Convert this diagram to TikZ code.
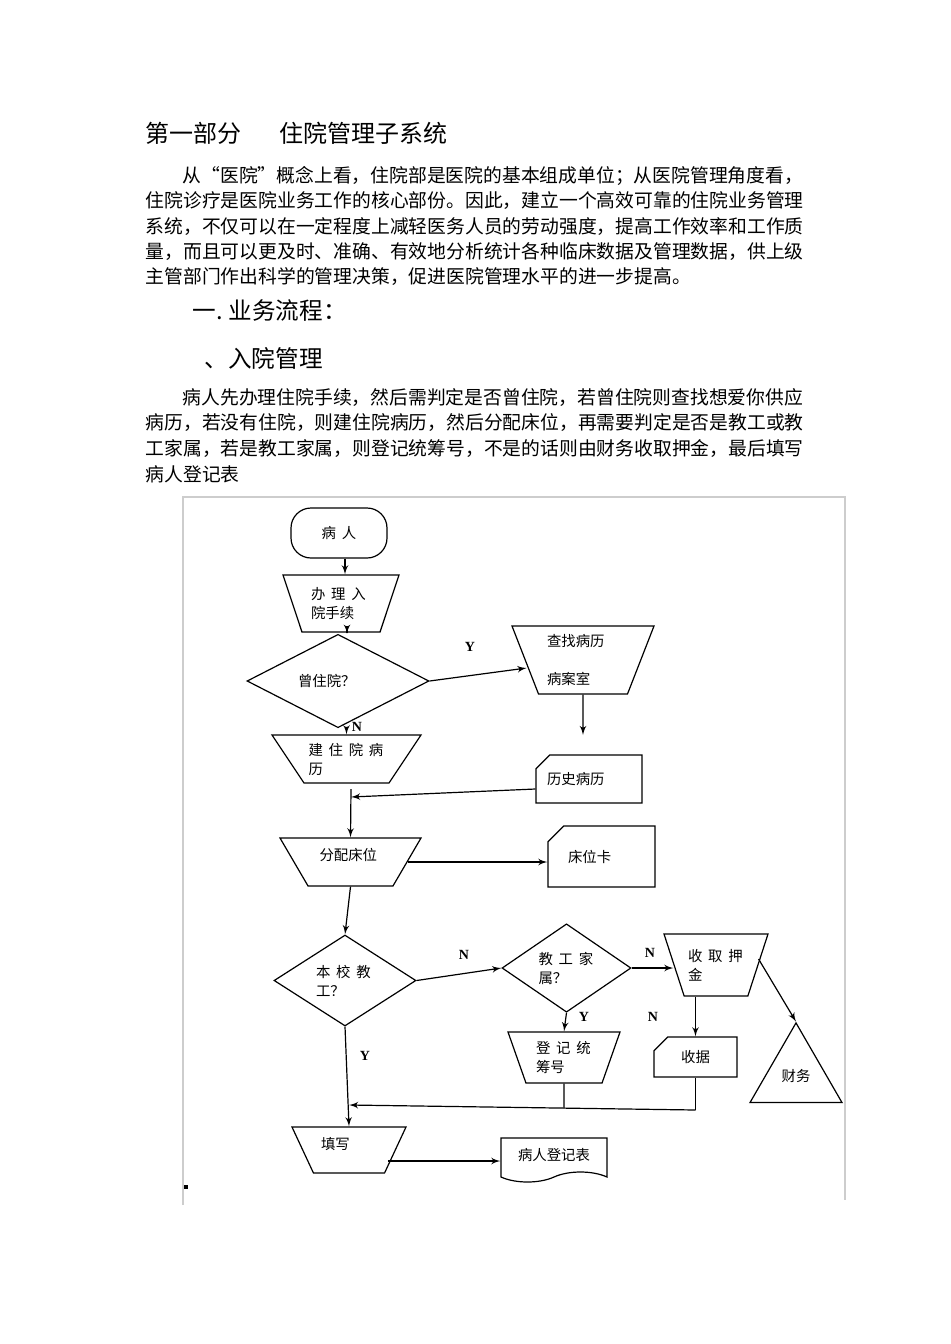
\documentclass[tikz,border=0pt]{standalone}
\usepackage{fontspec}
\setmainfont{Noto Sans CJK SC}
\newfontfamily\ynfont{Liberation Serif}
\usetikzlibrary{positioning,arrows,calc,shapes.geometric,shapes.misc,shapes.symbols}
\definecolor{framegray}{RGB}{205,205,205}
\newcommand\kg{\hspace{0.4em}}
% text block of a fixed height, so the slant of a trapezium follows it
\newcommand\tbox[4][c]{\parbox[c][#2][#1]{#3}{\raggedright #4}}
\tikzset{
    >=latex',
    body/.style = {
        anchor=west,
        inner sep=0pt,
        font=\fontsize{9.4pt}{12pt}\selectfont
    },
    head/.style = {
        anchor=west,
        inner sep=0pt,
        font=\fontsize{11.8pt}{14pt}\selectfont
    },
    flow/.style = {
        draw,
        inner sep=0pt,
        font=\fontsize{7.2pt}{9.5pt}\selectfont
    },
    terminal/.style = {
        flow,
        shape=rectangle,
        rounded corners=10pt
    },
    manual/.style = {
        flow,
        shape=trapezium,
        shape border rotate=180,
        trapezium stretches body,
        trapezium left angle=#1,
        trapezium right angle=#1
    },
    decision/.style = {
        flow,
        shape=diamond
    },
    card/.style = {
        flow,
        shape=chamfered rectangle,
        chamfered rectangle corners=north west
    },
    record/.style = {
        flow,
        shape=tape,
        tape bend top=none
    },
    merge/.style = {
        flow,
        shape=regular polygon,
        regular polygon sides=3
    },
    yn/.style = {
        inner sep=0pt,
        font=\ynfont\bfseries\fontsize{7pt}{8pt}\selectfont
    },
}

\begin{document}
\begin{tikzpicture}[x=0.5pt, y=-0.5pt, line width=0.6pt]
    \useasboundingbox (0,0) rectangle (950,1344);
    \fill[white] (0,0) rectangle (950,1344);

    % text of the page
    \node[head, font=\fontsize{12pt}{14pt}\selectfont] (title) at (145,133) {第一部分\hspace{19pt}住院管理子系统};
    \node[body] (p1a) at (182,176) {从“医院”概念上看，住院部是医院的基本组成单位；从医院管理角度看，};
    \node[body] (p1b) at (145,201) {住院诊疗是医院业务工作的核心部份。因此，建立一个高效可靠的住院业务管理};
    \node[body] (p1c) at (145,227) {系统，不仅可以在一定程度上减轻医务人员的劳动强度，提高工作效率和工作质};
    \node[body] (p1d) at (145,252) {量，而且可以更及时、准确、有效地分析统计各种临床数据及管理数据，供上级};
    \node[body] (p1e) at (145,277) {主管部门作出科学的管理决策，促进医院管理水平的进一步提高。};
    \node[head] (sec1) at (192,310) {一.\hspace{3pt}业务流程：};
    \node[head] (sec2) at (204,358) {、入院管理};
    \node[body] (p2a) at (182,398) {病人先办理住院手续，然后需判定是否曾住院，若曾住院则查找想爱你供应};
    \node[body] (p2b) at (145,423) {病历，若没有住院，则建住院病历，然后分配床位，再需要判定是否是教工或教};
    \node[body] (p2c) at (145,449) {工家属，若是教工家属，则登记统筹号，不是的话则由财务收取押金，最后填写};
    \node[body] (p2d) at (145,474) {病人登记表};

    % frame of the chart
    \draw[framegray, line width=0.8pt] (183,1205) -- (183,497) -- (845,497) -- (845,1200);
    \fill (184,1185) rectangle (188,1189);

    % chart
    \node[terminal, minimum width=48pt, minimum height=25pt] (bingren) at (339,533) {病\kg 人};
    \node[manual=71.6, minimum width=58pt] (banli) at (341,603.5) {\tbox{28.5pt}{30pt}{办\kg 理\kg 入\\院手续}};
    \node[decision, minimum width=91pt, minimum height=32pt, text width=40pt, align=left] (cengzy) at (338,681) {曾住院？};
    \node[manual=68.7, minimum width=71pt] (chazhao) at (583,660) {\tbox{34pt}{36pt}{查找病历\\[9.5pt]病案室}};
    \node[manual=56.3, minimum width=74.5pt] (jianli) at (346.5,759) {\tbox{24pt}{38pt}{建\kg 住\kg 院\kg 病\\历}};
    \node[card, chamfered rectangle xsep=7pt, chamfered rectangle ysep=3.5pt, minimum width=53pt, minimum height=24pt, text width=42pt, align=left] (lishi) at (589,779) {历史病历};
    \node[manual=59.7, minimum width=70.5pt] (fenpei) at (350.5,862) {\tbox[t]{24pt}{31pt}{\vspace*{5pt}分配床位}};
    \node[card, chamfered rectangle xsep=10pt, chamfered rectangle ysep=4.5pt, minimum width=53.5pt, minimum height=30.5pt, text width=33.5pt, align=left] (chuangwei) at (601.5,856.5) {床位卡};
    \node[decision, minimum width=71pt, minimum height=45.5pt, text width=29pt, align=left] (benxiao) at (345,980.5) {本\kg 校\kg 教\\工？};
    \node[decision, minimum width=64.5pt, minimum height=44pt, text width=28pt, align=left] (jiagong) at (566.5,968) {教\kg 工\kg 家\\属？};
    \node[manual=72, minimum width=52pt] (shouqu) at (716,965) {\tbox{31pt}{28pt}{收\kg 取\kg 押\\金}};
    \node[card, chamfered rectangle xsep=9pt, chamfered rectangle ysep=3.5pt, minimum width=41.5pt, minimum height=20pt] (shouju) at (695.5,1057) {收据};
    \node[merge, minimum size=53.1pt] (caiwu) at (796,1076) {财务};
    \node[manual=70.6, minimum width=56pt] (dengji) at (564,1057.5) {\tbox{25.5pt}{28pt}{登\kg 记\kg 统\\筹号}};
    \node[manual=65, minimum width=57pt] (tianxie) at (349,1150) {\tbox[t]{23pt}{28pt}{\vspace*{5pt}填写}};
    \node[record, minimum width=53pt, minimum height=22pt] (dengjibiao) at (554,1155) {病人登记表};

    \node[yn] (y1) at (470,647) {Y};
    \node[yn] (n1) at (357,727) {N};
    \node[yn] (n2) at (464,955) {N};
    \node[yn] (n3) at (650,953) {N};
    \node[yn] (n4) at (653,1017) {N};
    \node[yn] (y2) at (584,1017) {Y};
    \node[yn] (y3) at (365,1056) {Y};

    \coordinate (c-chazhao) at (583,735);
    \coordinate (j-top) at (351,789);
    \coordinate (j-mid) at (351,797);
    \coordinate (j-dj) at (564,1108);
    \coordinate (j-sj) at (695.5,1110);
    \coordinate (j-end) at (349,1105);

    \path[draw, ->] ([xshift=3pt]bingren.south) -- ([xshift=3pt]bingren.south |- banli.north);
    \path[draw, ->] ([xshift=3pt]banli.south) -- ([xshift=3pt]banli.south |- cengzy.north);
    \path[draw, ->] (cengzy.east) -- ($(chazhao.west)+(2,8)$);
    \path[draw, ->] (jianli.north |- cengzy.south) -- (jianli.north);
    \path[draw, ->] (chazhao.south) -- (c-chazhao);
    \path[draw, ->] ([yshift=-5pt]lishi.west) -- (j-mid);
    \path[draw, ->] (j-top) -- (fenpei.north);
    \path[draw, ->] (fenpei.east) -- (fenpei.east -| chuangwei.west);
    \path[draw, ->] (fenpei.south) -- (benxiao.north);
    \path[draw, ->] (benxiao.east) -- (jiagong.west);
    \path[draw, ->] (jiagong.east) -- (jiagong.east -| shouqu.west);
    \path[draw, ->] (shouju.north |- shouqu.south) -- (shouju.north);
    \path[draw, ->] ([yshift=3pt]shouqu.east) -- (caiwu.corner 1);
    \path[draw, ->] (jiagong.south) -- (dengji.north);
    \path[draw, -] (dengji.south) -- (j-dj);
    \path[draw, -] (shouju.south) -- (j-sj);
    \path[draw, ->] (j-sj) -- (j-end);
    \path[draw, ->] (benxiao.south) -- (tianxie.north);
    \path[draw, ->] ([xshift=-4pt, yshift=-5.5pt]tianxie.east) -- ([yshift=-5.5pt]tianxie.east -| dengjibiao.west);
\end{tikzpicture}
\end{document}
